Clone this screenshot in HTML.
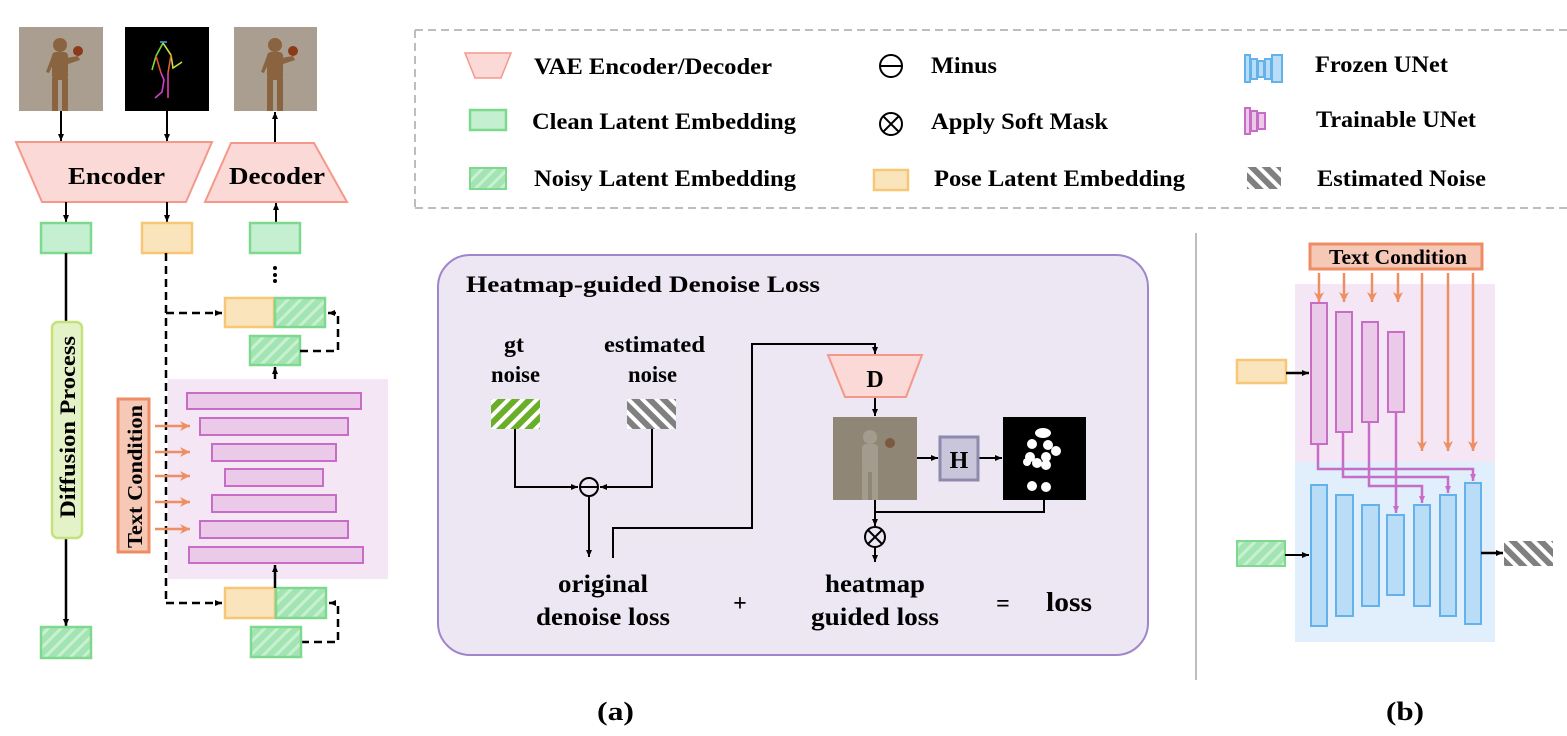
<!DOCTYPE html>
<html><head><meta charset="utf-8"><style>
html,body{margin:0;padding:0;background:#fff;}
svg{display:block;}
text{font-family:"Liberation Serif","DejaVu Serif",serif;font-weight:bold;fill:#000;}
</style></head><body>
<svg width="1567" height="736" viewBox="0 0 1567 736" xmlns="http://www.w3.org/2000/svg" font-family="Liberation Serif, DejaVu Serif, serif">
<defs>
<pattern id="gh" patternUnits="userSpaceOnUse" width="9" height="9" patternTransform="rotate(45)">
<rect width="9" height="9" fill="#a3e4b3"/><rect width="3" height="9" fill="#c9f0d2"/></pattern>
<pattern id="gt" patternUnits="userSpaceOnUse" width="10" height="10" patternTransform="rotate(45)">
<rect width="10" height="10" fill="#6aae2a"/><rect width="4" height="10" fill="#fff"/></pattern>
<pattern id="gy" patternUnits="userSpaceOnUse" width="10" height="10" patternTransform="rotate(-45)">
<rect width="10" height="10" fill="#808080"/><rect width="4" height="10" fill="#fff"/></pattern>
<marker id="ab" markerWidth="8" markerHeight="8" refX="7" refY="4" orient="auto" markerUnits="userSpaceOnUse"><path d="M0,1 L7,4 L0,7z" fill="#000"/></marker>
<marker id="ao" markerWidth="12" markerHeight="12" refX="10" refY="6" orient="auto" markerUnits="userSpaceOnUse"><path d="M0,1 L10,6 L0,11 L3,6z" fill="#ee8f63"/></marker>
<marker id="ap" markerWidth="8" markerHeight="8" refX="7" refY="4" orient="auto" markerUnits="userSpaceOnUse"><path d="M0,1 L7,4 L0,7z" fill="#c76dc6"/></marker>
</defs>

<!-- images top -->
<rect x="19" y="27" width="84" height="84" fill="#a99e8f"/>
<g fill="#8a6440"><circle cx="60" cy="45" r="7"/><rect x="52" y="52" width="16" height="28" rx="4"/><rect x="52" y="78" width="6" height="33"/><rect x="62" y="78" width="6" height="33"/><path d="M66,58 L78,56 L80,60 L68,64z"/><path d="M52,56 L46,72 L49,73 L55,60z"/></g><circle cx="78" cy="51" r="5" fill="#8b3a1a"/>
<rect x="125" y="27" width="84" height="84" fill="#000"/>
<g stroke-width="1.6" fill="none"><path d="M161,73 L164,80 L162,92 L155,98" stroke="#d23fd0"/><path d="M168,73 L168,84 L168,98" stroke="#e040b0"/><path d="M163,43 L156,56 L152,70" stroke="#7cd93a"/><path d="M163,43 L171,55 L173,68 L182,62" stroke="#c8e040"/><path d="M160,42 L167,42" stroke="#3aa0e0"/><path d="M156,56 L161,73" stroke="#e05030"/><path d="M171,55 L168,73" stroke="#e06030"/></g>
<rect x="234" y="27" width="83" height="84" fill="#a99e8f"/>
<g fill="#8a6440"><circle cx="275" cy="45" r="7"/><rect x="267" y="52" width="16" height="28" rx="4"/><rect x="267" y="78" width="6" height="33"/><rect x="277" y="78" width="6" height="33"/><path d="M281,58 L293,56 L295,60 L283,64z"/><path d="M267,56 L261,72 L264,73 L270,60z"/></g><circle cx="293" cy="51" r="5" fill="#8b3a1a"/>

<!-- encoder / decoder -->
<polygon points="16,142 212,142 186,202 42,202" fill="#fbd9d6" stroke="#f5988a" stroke-width="2"/>
<text x="68" y="184" font-size="24" textLength="97" lengthAdjust="spacingAndGlyphs">Encoder</text>
<polygon points="231,143 314,143 347,202 205,202" fill="#fbd9d6" stroke="#f5988a" stroke-width="2"/>
<text x="229" y="184" font-size="24" textLength="96" lengthAdjust="spacingAndGlyphs">Decoder</text>
<g stroke="#000" stroke-width="2" marker-end="url(#ab)">
<line x1="61" y1="111" x2="61" y2="141"/><line x1="167" y1="111" x2="167" y2="141"/><line x1="275" y1="142" x2="275" y2="112"/>
<line x1="66" y1="202" x2="66" y2="222"/><line x1="167" y1="202" x2="167" y2="222"/><line x1="276" y1="223" x2="276" y2="203"/>
</g>
<rect x="41" y="223" width="50" height="30" fill="#c4efd0" stroke="#7ed98f" stroke-width="2.5"/>
<rect x="142" y="223" width="50" height="30" fill="#fae4bb" stroke="#f7c776" stroke-width="2.5"/>
<rect x="250" y="223" width="50" height="30" fill="#c4efd0" stroke="#7ed98f" stroke-width="2.5"/>
<g fill="#000"><circle cx="275" cy="268" r="2"/><circle cx="275" cy="275" r="2"/><circle cx="275" cy="281" r="2"/></g>

<rect x="225" y="298" width="49" height="29" fill="#fae4bb" stroke="#f7c776" stroke-width="2.5"/>
<rect x="275" y="298" width="50" height="29" fill="url(#gh)" stroke="#7ed98f" stroke-width="2.5"/>
<rect x="250" y="336" width="50" height="29" fill="url(#gh)" stroke="#7ed98f" stroke-width="2.5"/>
<g stroke="#000" stroke-width="2.5" fill="none" stroke-dasharray="8,5">
<path d="M166,253 L166,603"/><path d="M166,313 L222,313" marker-end="url(#ab)"/>
<path d="M300,351 L338,351 L338,313 L328,313" marker-end="url(#ab)"/>
<path d="M166,603 L222,603" marker-end="url(#ab)"/>
<path d="M301,642 L338,642 L338,603 L329,603" marker-end="url(#ab)"/>
</g>
<line x1="275" y1="379" x2="275" y2="367" stroke="#000" stroke-width="2.5" marker-end="url(#ab)"/>
<rect x="168" y="379" width="220" height="200" fill="#f5e6f5"/>
<g fill="#ebc9e8" stroke="#c76dc6" stroke-width="2">
<rect x="187" y="393" width="174" height="16"/><rect x="200" y="418" width="148" height="17"/><rect x="212" y="444" width="124" height="17"/><rect x="225" y="469" width="98" height="17"/><rect x="212" y="495" width="124" height="17"/><rect x="200" y="521" width="148" height="17"/><rect x="189" y="547" width="174" height="16"/>
</g>
<rect x="118" y="399" width="31" height="153" fill="#f6c8b6" stroke="#ee8c65" stroke-width="3"/>
<text transform="translate(142,548) rotate(-90)" font-size="21" textLength="143" lengthAdjust="spacingAndGlyphs">Text Condition</text>
<g stroke="#ee8f63" stroke-width="2.5" marker-end="url(#ao)">
<line x1="155" y1="426" x2="190" y2="426"/><line x1="155" y1="452" x2="190" y2="452"/><line x1="155" y1="476" x2="190" y2="476"/><line x1="155" y1="502" x2="190" y2="502"/><line x1="155" y1="529" x2="190" y2="529"/>
</g>
<line x1="66" y1="253" x2="66" y2="322" stroke="#000" stroke-width="2.5"/>
<line x1="66" y1="538" x2="66" y2="626" stroke="#000" stroke-width="2.5" marker-end="url(#ab)"/>
<rect x="52" y="322" width="30" height="216" rx="6" fill="#e4f3c7" stroke="#c3e27a" stroke-width="2.5"/>
<text transform="translate(75,518) rotate(-90)" font-size="22" textLength="182" lengthAdjust="spacingAndGlyphs">Diffusion Process</text>
<rect x="41" y="627" width="50" height="31" fill="url(#gh)" stroke="#7ed98f" stroke-width="2.5"/>
<rect x="225" y="588" width="50" height="30" fill="#fae4bb" stroke="#f7c776" stroke-width="2.5"/>
<rect x="276" y="588" width="50" height="30" fill="url(#gh)" stroke="#7ed98f" stroke-width="2.5"/>
<line x1="275" y1="588" x2="275" y2="565" stroke="#000" stroke-width="2.5" marker-end="url(#ab)"/>
<rect x="251" y="627" width="50" height="30" fill="url(#gh)" stroke="#7ed98f" stroke-width="2.5"/>

<!-- legend -->
<path d="M415,30 L1567,30 M415,208 L1567,208 M415,30 L415,208" stroke="#bdbdbd" stroke-width="2" stroke-dasharray="8,5" fill="none"/>
<polygon points="465,53 511,53 501,78 475,78" fill="#fbd9d6" stroke="#f5988a" stroke-width="1.5"/>
<text x="534" y="74" font-size="23" textLength="238" lengthAdjust="spacingAndGlyphs">VAE Encoder/Decoder</text>
<rect x="470" y="110" width="36" height="20" fill="#c4efd0" stroke="#7ed98f" stroke-width="2.5"/>
<text x="532" y="129" font-size="23" textLength="264" lengthAdjust="spacingAndGlyphs">Clean Latent Embedding</text>
<rect x="470" y="168" width="36" height="21" fill="url(#gh)" stroke="#7ed98f" stroke-width="2"/>
<text x="534" y="186" font-size="23" textLength="262" lengthAdjust="spacingAndGlyphs">Noisy Latent Embedding</text>
<circle cx="891" cy="66" r="11" fill="none" stroke="#000" stroke-width="2"/><line x1="880" y1="66" x2="902" y2="66" stroke="#000" stroke-width="2"/>
<text x="931" y="73" font-size="23" textLength="66" lengthAdjust="spacingAndGlyphs">Minus</text>
<circle cx="891" cy="124" r="11" fill="none" stroke="#000" stroke-width="2"/><path d="M883,116 L899,132 M899,116 L883,132" stroke="#000" stroke-width="2"/>
<text x="931" y="129" font-size="23" textLength="177" lengthAdjust="spacingAndGlyphs">Apply Soft Mask</text>
<rect x="874" y="170" width="34" height="20" fill="#fae4bb" stroke="#f7c776" stroke-width="2.5"/>
<text x="934" y="186" font-size="23" textLength="251" lengthAdjust="spacingAndGlyphs">Pose Latent Embedding</text>
<g fill="#b9dcf7" stroke="#64b2ec" stroke-width="2"><rect x="1245" y="55" width="5" height="27"/><rect x="1251" y="59" width="6" height="20"/><rect x="1258" y="61" width="6" height="16"/><rect x="1265" y="59" width="6" height="20"/><rect x="1272" y="55" width="10" height="27"/></g>
<text x="1315" y="72" font-size="23" textLength="133" lengthAdjust="spacingAndGlyphs">Frozen UNet</text>
<g fill="#ebc9e8" stroke="#c76dc6" stroke-width="2"><rect x="1245" y="108" width="5" height="26"/><rect x="1251" y="111" width="6" height="20"/><rect x="1258" y="113" width="7" height="16"/></g>
<text x="1316" y="127" font-size="23" textLength="160" lengthAdjust="spacingAndGlyphs">Trainable UNet</text>
<rect x="1247" y="167" width="34" height="22" fill="url(#gy)"/>
<text x="1317" y="186" font-size="23" textLength="169" lengthAdjust="spacingAndGlyphs">Estimated Noise</text>

<!-- heatmap panel -->
<rect x="438" y="255" width="710" height="400" rx="32" fill="#ece7f3" stroke="#9f86cc" stroke-width="2"/>
<text x="466" y="292" font-size="23" textLength="354" lengthAdjust="spacingAndGlyphs">Heatmap-guided Denoise Loss</text>
<text x="504" y="352" font-size="23" textLength="20" lengthAdjust="spacingAndGlyphs">gt</text>
<text x="491" y="382" font-size="23" textLength="49" lengthAdjust="spacingAndGlyphs">noise</text>
<text x="604" y="352" font-size="23" textLength="101" lengthAdjust="spacingAndGlyphs">estimated</text>
<text x="628" y="382" font-size="23" textLength="49" lengthAdjust="spacingAndGlyphs">noise</text>
<rect x="491" y="399" width="49" height="30" fill="url(#gt)"/>
<rect x="627" y="399" width="49" height="30" fill="url(#gy)"/>
<g stroke="#000" stroke-width="2" fill="none">
<path d="M515,429 L515,487 L578,487" marker-end="url(#ab)"/>
<path d="M652,429 L652,487 L600,487" marker-end="url(#ab)"/>
<circle cx="589" cy="487" r="9"/><line x1="580" y1="487" x2="598" y2="487"/>
<path d="M589,496 L589,557" marker-end="url(#ab)"/>
<path d="M613,558 L613,528 L752,528 L752,344 L875,344 L875,354" marker-end="url(#ab)"/>
<path d="M875,397 L875,416" marker-end="url(#ab)"/>
<path d="M917,458 L938,458" marker-end="url(#ab)"/>
<path d="M978,458 L1002,458" marker-end="url(#ab)"/>
<path d="M875,500 L875,526" marker-end="url(#ab)"/>
<path d="M1044,500 L1044,512 L875,512"/>
<circle cx="875" cy="537" r="10"/><path d="M868,530 L882,544 M882,530 L868,544"/>
<path d="M875,547 L875,562" marker-end="url(#ab)"/>
</g>
<polygon points="828,355 922,355 906,397 845,397" fill="#fbd9d6" stroke="#f5988a" stroke-width="2"/>
<text x="875" y="387" font-size="24" text-anchor="middle">D</text>
<rect x="833" y="417" width="84" height="83" fill="#8f8676"/>
<g fill="#a69e90" opacity="0.9"><circle cx="870" cy="437" r="7"/><rect x="862" y="444" width="16" height="28" rx="4"/><rect x="862" y="470" width="6" height="30"/><rect x="872" y="470" width="6" height="30"/></g><circle cx="890" cy="443" r="5" fill="#7a5a40"/>
<rect x="940" y="437" width="38" height="43" fill="#c9c6db" stroke="#8e8aae" stroke-width="3"/>
<text x="959" y="468" font-size="24" text-anchor="middle">H</text>
<rect x="1003" y="417" width="83" height="83" fill="#000"/>
<g fill="#fff"><ellipse cx="1043" cy="433" rx="8" ry="5"/><circle cx="1032" cy="444" r="5"/><circle cx="1048" cy="445" r="5"/><circle cx="1030" cy="457" r="5"/><circle cx="1046" cy="457" r="5"/><circle cx="1056" cy="451" r="5"/><circle cx="1037" cy="463" r="5"/><circle cx="1046" cy="465" r="5"/><circle cx="1027" cy="462" r="4"/><circle cx="1032" cy="486" r="5"/><circle cx="1046" cy="487" r="5"/></g>
<text x="558" y="592" font-size="25" textLength="90" lengthAdjust="spacingAndGlyphs">original</text>
<text x="536" y="625" font-size="25" textLength="134" lengthAdjust="spacingAndGlyphs">denoise loss</text>
<text x="740" y="611" font-size="24" text-anchor="middle">+</text>
<text x="825" y="592" font-size="25" textLength="100" lengthAdjust="spacingAndGlyphs">heatmap</text>
<text x="811" y="625" font-size="25" textLength="128" lengthAdjust="spacingAndGlyphs">guided loss</text>
<text x="1003" y="611" font-size="24" text-anchor="middle">=</text>
<text x="1046" y="611" font-size="27" textLength="46" lengthAdjust="spacingAndGlyphs">loss</text>

<line x1="1196" y1="233" x2="1196" y2="680" stroke="#bdbdbd" stroke-width="2"/>
<text x="597" y="720" font-size="26" textLength="37" lengthAdjust="spacingAndGlyphs">(a)</text>
<text x="1386" y="720" font-size="26" textLength="38" lengthAdjust="spacingAndGlyphs">(b)</text>

<!-- panel b -->
<rect x="1295" y="284" width="200" height="178" fill="#f5e6f5"/>
<rect x="1295" y="462" width="200" height="180" fill="#e1eefb"/>
<rect x="1310" y="244" width="172" height="25" fill="#f6c8b6" stroke="#ee8c65" stroke-width="3"/>
<text x="1329" y="264" font-size="21" textLength="138" lengthAdjust="spacingAndGlyphs">Text Condition</text>
<g stroke="#ee8f63" stroke-width="2.5" marker-end="url(#ao)">
<line x1="1319" y1="273" x2="1319" y2="302"/><line x1="1344" y1="273" x2="1344" y2="302"/><line x1="1372" y1="273" x2="1372" y2="302"/><line x1="1398" y1="273" x2="1398" y2="302"/>
<line x1="1422" y1="273" x2="1422" y2="451"/><line x1="1448" y1="273" x2="1448" y2="451"/><line x1="1473" y1="273" x2="1473" y2="451"/>
</g>
<g fill="#ebc9e8" stroke="#c76dc6" stroke-width="2">
<rect x="1311" y="303" width="16" height="141"/><rect x="1336" y="312" width="16" height="120"/><rect x="1362" y="322" width="16" height="100"/><rect x="1388" y="332" width="16" height="80"/>
</g>
<g fill="#b9dcf7" stroke="#64b2ec" stroke-width="2">
<rect x="1311" y="485" width="16" height="141"/><rect x="1336" y="495" width="17" height="121"/><rect x="1362" y="505" width="17" height="101"/><rect x="1387" y="515" width="17" height="80"/><rect x="1414" y="505" width="16" height="101"/><rect x="1440" y="495" width="16" height="121"/><rect x="1465" y="483" width="16" height="141"/>
</g>
<g stroke="#c76dc6" stroke-width="2.5" fill="none">
<path d="M1318,444 L1318,469 L1473,469 L1473,481" marker-end="url(#ap)"/>
<path d="M1343,432 L1343,477 L1448,477 L1448,493" marker-end="url(#ap)"/>
<path d="M1369,422 L1369,486 L1422,486 L1422,503" marker-end="url(#ap)"/>
<path d="M1396,412 L1396,513" marker-end="url(#ap)"/>
</g>
<rect x="1237" y="360" width="49" height="23" fill="#fae4bb" stroke="#f7c776" stroke-width="2.5"/>
<line x1="1286" y1="373" x2="1309" y2="373" stroke="#000" stroke-width="2.5" marker-end="url(#ab)"/>
<rect x="1237" y="541" width="48" height="25" fill="url(#gh)" stroke="#7ed98f" stroke-width="2"/>
<line x1="1285" y1="555" x2="1309" y2="555" stroke="#000" stroke-width="2" marker-end="url(#ab)"/>
<line x1="1481" y1="553" x2="1503" y2="553" stroke="#000" stroke-width="2.5" marker-end="url(#ab)"/>
<rect x="1504" y="541" width="49" height="25" fill="url(#gy)"/>
</svg>
</body></html>
